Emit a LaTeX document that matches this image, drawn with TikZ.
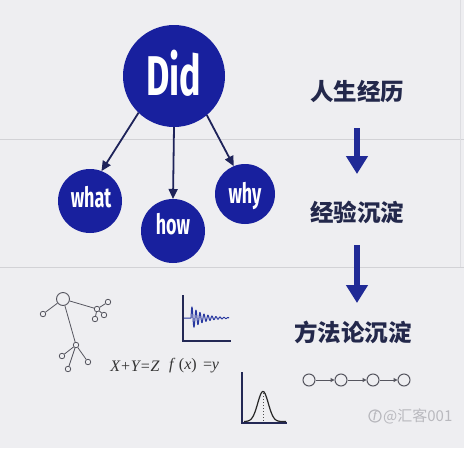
\documentclass[tikz,border=0pt]{standalone}
\usepackage{fontspec}
\setmainfont{Fira Sans}
\newfontfamily\condfont{Fira Sans}[FakeStretch=0.64]
\newfontfamily\cjk{Noto Sans CJK SC}
\newfontfamily\eqfont{Liberation Serif}
\usetikzlibrary{arrows.meta}
\definecolor{bgcol}{RGB}{238,238,241}
\definecolor{rulecol}{RGB}{210,210,214}
\definecolor{blueball}{RGB}{24,32,158}
\definecolor{conncol}{RGB}{30,35,90}
\definecolor{downcol}{RGB}{32,42,150}
\definecolor{cjkcol}{RGB}{35,40,75}
\definecolor{sketchcol}{RGB}{85,85,95}
\definecolor{axiscol}{RGB}{35,40,85}
\definecolor{wavecol}{RGB}{40,56,160}
\definecolor{markcol}{RGB}{185,185,190}
\tikzset{
  ball/.style={circle, fill=blueball, draw=none, inner sep=0pt, outer sep=0pt},
  balltext/.style={text=white, font=\condfont\bfseries\fontsize{28}{30}\selectfont, inner sep=0pt},
  conn/.style={draw=conncol, line width=1.8pt, -{Triangle[length=10pt,width=9pt]}},
  downarrow/.style={draw=downcol, line width=6pt, -{Triangle[length=18pt,width=21pt]}},
  cjktext/.style={text=cjkcol, font=\cjk\bfseries\fontsize{23.5}{26}\selectfont, inner sep=0pt},
  dot/.style={circle, draw=sketchcol, fill=bgcol, line width=0.8pt, minimum size=5.5pt, inner sep=0pt},
  bigdot/.style={circle, draw=sketchcol, fill=bgcol, line width=0.9pt, minimum size=13pt, inner sep=0pt},
  treeline/.style={draw=sketchcol, line width=0.8pt},
  axis/.style={draw=axiscol, line width=1.8pt},
  chaindot/.style={circle, draw=sketchcol, line width=1pt, minimum size=12pt, inner sep=0pt},
  chainarrow/.style={draw=sketchcol, line width=1pt, -{Triangle[length=4pt,width=4pt]}},
  eqtext/.style={text=black!80, font=\eqfont\itshape\fontsize{16}{18}\selectfont, inner sep=0pt},
}
\begin{document}
\begin{tikzpicture}[x=1pt,y=-1pt]
\fill[bgcol] (0,0) rectangle (464,448);
\useasboundingbox (0,0) rectangle (464,448);
% dividers
\draw[rulecol, line width=1pt] (0,139.5) -- (464,139.5);
\draw[rulecol, line width=1pt] (0,267) -- (464,267);
\draw[rulecol!60!bgcol, line width=0.8pt] (460,0) -- (460,267);

% balls
\node[ball, minimum size=102pt] (did) at (174,76) {};
\node[ball, minimum size=64pt] (what) at (90,201) {};
\node[ball, minimum size=64pt] (how) at (173,231) {};
\node[ball, minimum size=60pt] (why) at (245,194) {};
\node[text=white, font=\condfont\bfseries\fontsize{56}{60}\selectfont, inner sep=0pt] (didt) at (174,73) {Did};
\node[balltext] (whatt) at (91,197) {what};
\node[balltext] (howt) at (173,224) {how};
\node[balltext] (whyt) at (245,196) {why};

\draw[conn] (did.226) -- (what.69);
\draw[conn] (did.south) -- (how.north);
\draw[conn] (did.310) -- (why.112);

% right column
\node[cjktext] (t1) at (357,91) {人生经历};
\node[cjktext] (t2) at (357,212) {经验沉淀};
\node[cjktext] (t3) at (353,332) {方法论沉淀};
\coordinate (a1s) at (357,128);
\coordinate (a1e) at (357,174);
\coordinate (a2s) at (357,245);
\coordinate (a2e) at (357,303);
\draw[downarrow] (a1s) -- (a1e);
\draw[downarrow] (a2s) -- (a2e);

% tree sketch
\node[bigdot] (r) at (63,299) {};
\node[dot] (l1) at (43,314) {};
\node[dot] (hub) at (97,309) {};
\node[dot] (h1) at (108,302) {};
\node[dot] (h2) at (104,315) {};
\node[dot] (h3) at (95,319) {};
\node[dot] (m) at (76,345) {};
\node[dot] (m1) at (62,356) {};
\node[dot] (m2) at (88,362) {};
\node[dot] (m3) at (68,369) {};
\draw[treeline] (r) -- (l1);
\draw[treeline] (r) -- (hub);
\draw[treeline] (hub) -- (h1);
\draw[treeline] (hub) -- (h2);
\draw[treeline] (hub) -- (h3);
\draw[treeline] (r) -- (m);
\draw[treeline] (m) -- (m1);
\draw[treeline] (m) -- (m2);
\draw[treeline] (m) -- (m3);

% waveform chart
\coordinate (w0) at (183,295);
\coordinate (wc) at (183,341);
\coordinate (w1) at (231,341);
\draw[axis] (w0) -- (wc) -- (w1);
\draw[wavecol, line width=1pt, line join=round] (184,318) -- (191,318)
  plot[domain=0:38, samples=200, smooth] ({191+\x},{318-12*exp(-0.085*\x)*sin(90*\x)});

% equations
\node[eqtext] (eq1) at (135,366) {X+Y=Z};
\node[eqtext, anchor=west] (eq2) at (169,366) {f\,\,{\upshape(}x{\upshape)}\,\,={\kern-1pt}y};

% bell chart
\coordinate (b0) at (242,372);
\coordinate (bc) at (242,423);
\coordinate (b1) at (287,423);
\draw[axis] (b0) -- (bc) -- (b1);
\draw[black!85, line width=1.2pt] plot[domain=244:286, samples=80, smooth] (\x,{421.5-30*exp(-((\x-263)/7.5)^2)});
\draw[black!70, line width=1pt, dotted] (263,393) -- (263,422);

% chain
\node[chaindot] (c1) at (309,380) {};
\node[chaindot] (c2) at (341,380) {};
\node[chaindot] (c3) at (373,380) {};
\node[chaindot] (c4) at (404,380) {};
\draw[chainarrow] (c1) -- (c2);
\draw[chainarrow] (c2) -- (c3);
\draw[chainarrow] (c3) -- (c4);

% watermark
\node[circle, draw=markcol, line width=1.2pt, minimum size=12pt, inner sep=0pt] (logo) at (375,416) {};
\node[text=markcol, font=\eqfont\itshape\bfseries\fontsize{10}{10}\selectfont, inner sep=0pt] (logof) at (375,416) {f};
\node[text=markcol, font=\cjk\fontsize{15}{16}\selectfont, anchor=west, inner sep=0pt] (mark) at (383,416) {@汇客001};
\end{tikzpicture}
\end{document}
